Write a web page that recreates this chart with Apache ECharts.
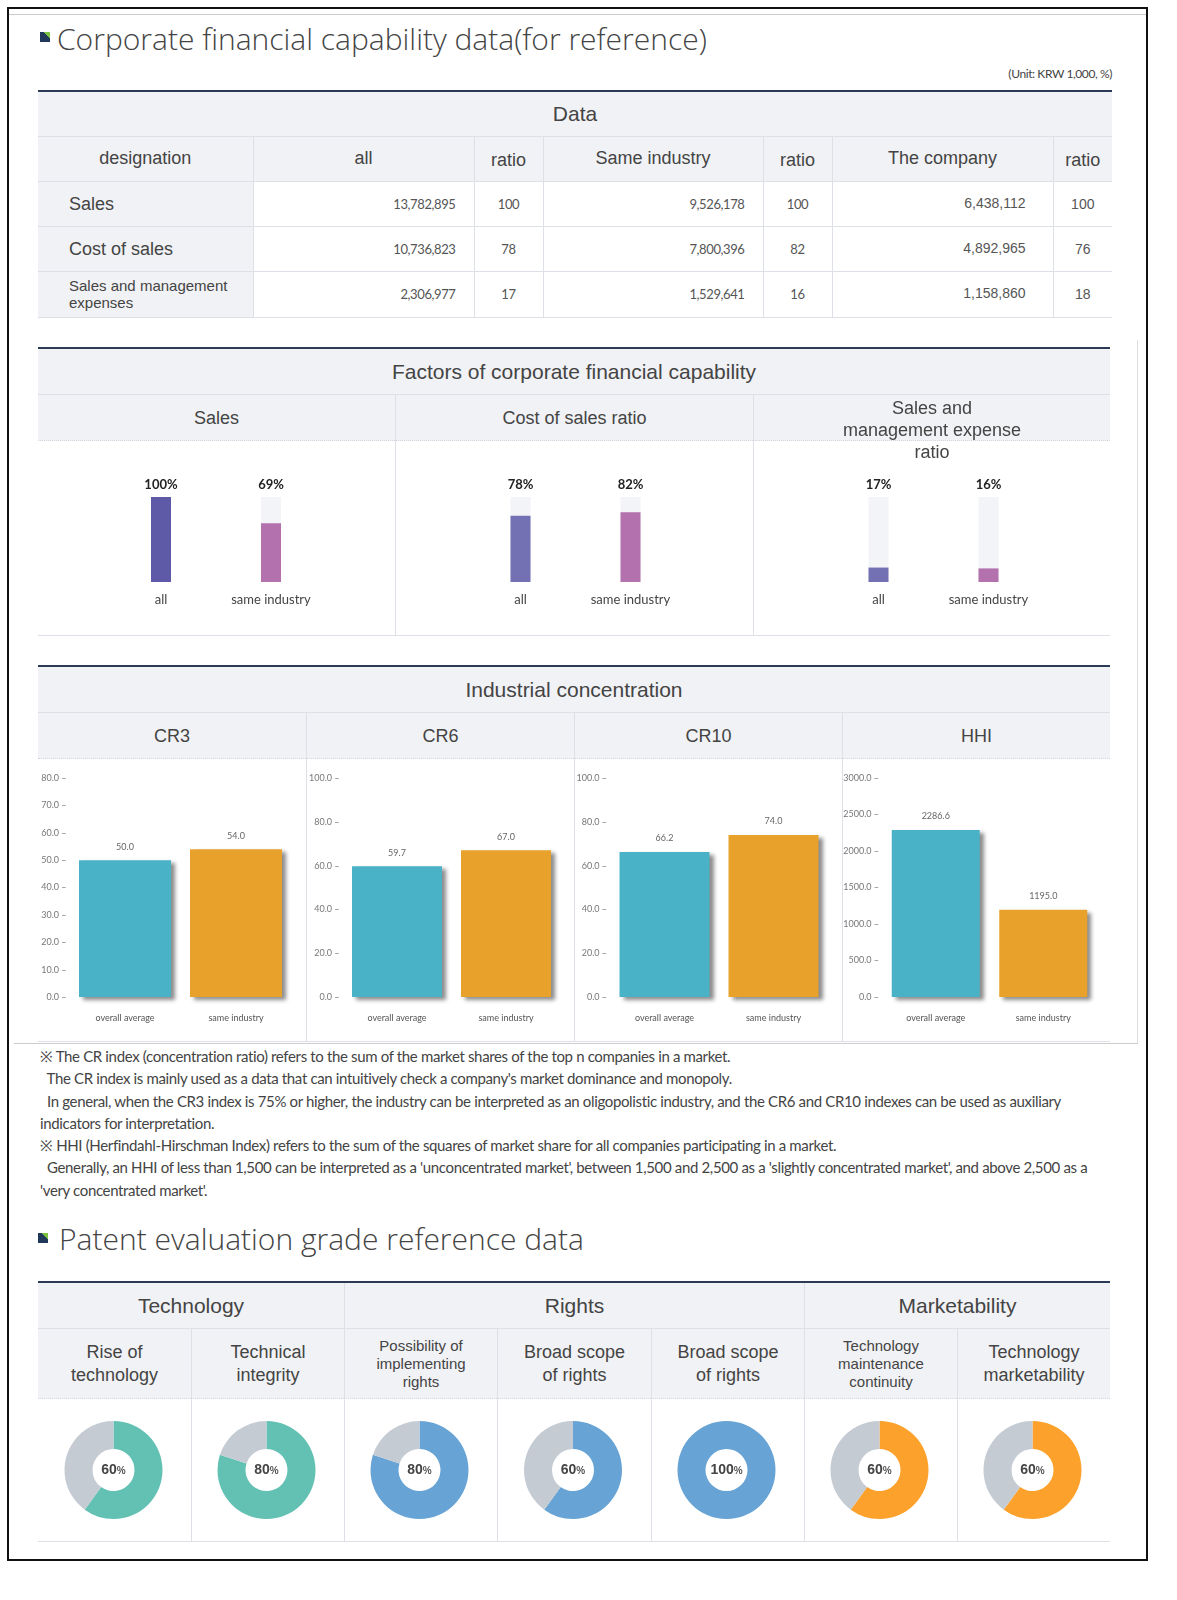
<!DOCTYPE html>
<html><head><meta charset="utf-8">
<script src="https://cdn.jsdelivr.net/npm/echarts@6/dist/echarts.min.js"></script>
<style>
html{margin:0;width:1177px;height:1600px;overflow:hidden;}
body{margin:0;background:#fff;width:1177px;height:1600px;position:relative;font-family:"Liberation Sans",Arial,sans-serif;color:#444;overflow:hidden;}
#page{position:absolute;left:0;top:0;width:1177px;height:1600px;overflow:hidden;}
.abs{position:absolute;}
.frame{left:7px;top:7px;width:1141px;height:1554px;border:2px solid #111;box-sizing:border-box;}
.title{font-family:"Open Sans","Noto Sans",sans-serif;font-weight:300;font-size:30px;color:#444;line-height:40px;white-space:nowrap;}
.bullet{width:10px;height:10px;background:linear-gradient(225deg,#7cc242 0,#7cc242 32%,#22385a 32%);}
table{border-collapse:collapse;table-layout:fixed;}
td{padding:0;border-bottom:1px solid #dde0e6;border-left:1px solid #dde0e6;overflow:visible;}
td:first-child{border-left:none;}
.hd{background:#f1f2f5;text-align:center;color:#444;}
.num{font-family:"Lato",sans-serif;font-size:13px;color:#555;letter-spacing:-0.4px;}
.sec{border-top:2px solid #2b3a55;box-sizing:border-box;}
.row{position:absolute;left:0;background:#f1f2f5;text-align:center;color:#444;}
.note{font-family:"Lato",sans-serif;font-size:15px;color:#444;letter-spacing:-0.35px;white-space:pre;line-height:22.3px;}
.vline{position:absolute;width:1px;background:#dde0e6;}
</style></head>
<body>
<div id="page">
<div class="abs frame"></div>
<div class="abs" style="left:9px;top:14px;width:1137px;height:1px;background:#ccc"></div>

<div class="abs bullet" style="left:40px;top:32px"></div>
<div class="abs title" style="left:57px;top:19px">Corporate financial capability data(for reference)</div>
<div class="abs num" style="left:900px;top:66px;width:212px;text-align:right;font-size:12px;color:#444">(Unit: KRW 1,000, %)</div>

<div class="abs" id="t1" style="left:38px;top:90px;width:1074px"></div>

<div class="abs sec" id="sec2" style="left:38px;top:347px;width:1072px;height:288px"></div>
<div class="abs sec" id="sec3" style="left:38px;top:665px;width:1072px;height:376px"></div>

<div class="abs" style="left:14px;top:1043px;width:1124px;height:1px;background:#ccc"></div>
<div class="abs" style="left:1137px;top:340px;width:1px;height:703px;background:#ddd"></div>
<div class="abs" id="notes" style="left:40px;top:1045px"></div>

<div class="abs bullet" style="left:38px;top:1233px"></div>
<div class="abs title" style="left:59px;top:1219px">Patent evaluation grade reference data</div>
<div class="abs sec" id="sec4" style="left:38px;top:1281px;width:1072px;height:260px"></div>

<div class="abs" id="c1" style="left:38px;top:440px;width:1072px;height:194px"></div>
<div class="abs" id="c2" style="left:38px;top:758px;width:1072px;height:282px"></div>
<div class="abs" id="c3" style="left:38px;top:1398px;width:1072px;height:142px"></div>
</div>

<script>
// ---------- data ----------
const tableHeaders = ['designation','all','ratio','Same industry','ratio','The company','ratio'];
const rowNames = ['Sales','Cost of sales','Sales and management expenses'];
const allAmounts = ['13,782,895','10,736,823','2,306,977'];
const allRatios = [100,78,17];
const industryAmounts = ['9,526,178','7,800,396','1,529,641'];
const industryRatios = [100,82,16];
const companyAmounts = ['6,438,112','4,892,965','1,158,860'];
const companyRatios = [100,76,18];

const factorTitles = ['Sales','Cost of sales ratio','Sales and management expense ratio'];
const factorCats = ['all','same industry'];
const factorValues = [[100,69],[78,82],[17,16]];

const concTitles = ['CR3','CR6','CR10','HHI'];
const concCats = ['overall average','same industry'];
const concValues = [[50.0,54.0],[59.7,67.0],[66.2,74.0],[2286.6,1195.0]];
const concMax = [80,100,100,3000];
const concStep = [10,20,20,500];

const patentGroups = ['Technology','Rights','Marketability'];
const patentGroupSpans = [2,3,2];
const patentItems = ['Rise of technology','Technical integrity','Possibility of implementing rights','Broad scope of rights','Broad scope of rights','Technology maintenance continuity','Technology marketability'];
const patentValues = [60,80,80,60,100,60,60];

const noteLines = [
"※ The CR index (concentration ratio) refers to the sum of the market shares of the top n companies in a market.",
"  The CR index is mainly used as a data that can intuitively check a company's market dominance and monopoly.",
"  In general, when the CR3 index is 75% or higher, the industry can be interpreted as an oligopolistic industry, and the CR6 and CR10 indexes can be used as auxiliary",
"indicators for interpretation.",
"※ HHI (Herfindahl-Hirschman Index) refers to the sum of the squares of market share for all companies participating in a market.",
"  Generally, an HHI of less than 1,500 can be interpreted as a 'unconcentrated market', between 1,500 and 2,500 as a 'slightly concentrated market', and above 2,500 as a",
"'very concentrated market'."
];

// ---------- table 1 ----------
(function(){
  const widths=[215,221,69,220,69,221,59];
  let h='<table class="sec" style="width:1074px"><colgroup>'+widths.map(w=>'<col style="width:'+w+'px">').join('')+'</colgroup>';
  h+='<tr style="height:45px"><td colspan="7" class="hd" style="font-size:21px">Data</td></tr>';
  h+='<tr style="height:45px">'+tableHeaders.map((t,i)=>'<td class="hd" style="font-size:18px;'+(i%2===0&&i>0?'padding-top:4px':'')+'">'+t+'</td>').join('')+'</tr>';
  rowNames.forEach((n,r)=>{
    const long=n.length>20;
    h+='<tr style="height:'+(r===2?46:45)+'px">';
    h+='<td class="hd" style="text-align:left;padding-left:31px;font-size:'+(long?15:18)+'px;line-height:'+(long?17:20)+'px;white-space:'+(long?'normal':'nowrap')+'">'+n+'</td>';
    h+='<td class="num" style="text-align:right;padding-right:18px">'+allAmounts[r]+'</td>';
    h+='<td class="num" style="text-align:center">'+allRatios[r]+'</td>';
    h+='<td class="num" style="text-align:right;padding-right:18px">'+industryAmounts[r]+'</td>';
    h+='<td class="num" style="text-align:center">'+industryRatios[r]+'</td>';
    h+='<td style="text-align:right;padding-right:27px;font-size:14px;color:#555;vertical-align:top;padding-top:13px">'+companyAmounts[r]+'</td>';
    h+='<td style="text-align:center;font-size:14px;color:#555">'+companyRatios[r]+'</td>';
    h+='</tr>';
  });
  h+='</table>';
  document.getElementById('t1').innerHTML=h;
})();

// ---------- section layouts ----------
function buildSection(id, title, subs, subH, bodyH, subStyleFn){
  const el=document.getElementById(id);
  const W=1072, n=subs.length;
  let h='<div class="row" style="top:0;width:'+W+'px;height:45px;line-height:45px;font-size:21px;border-bottom:1px solid #dde0e6">'+title+'</div>';
  let x=0;
  const ws=[];
  for(let i=0;i<n;i++){ws.push(Math.round(W*(i+1)/n)-Math.round(W*i/n));}
  subs.forEach((s,i)=>{
    h+='<div class="row" style="top:46px;left:'+x+'px;width:'+ws[i]+'px;height:'+subH+'px;border-bottom:1px dotted #d4d7dd;'+(i>0?'border-left:1px solid #dde0e6;':'')+'box-sizing:border-box;">'+subStyleFn(s,i)+'</div>';
    if(i>0) h+='<div class="vline" style="left:'+x+'px;top:'+(46+subH)+'px;height:'+bodyH+'px"></div>';
    x+=ws[i];
  });
  h+='<div style="position:absolute;left:0;top:'+(46+subH+bodyH)+'px;width:'+W+'px;height:1px;background:#dde0e6"></div>';
  el.innerHTML=h;
  return ws;
}
buildSection('sec2','Factors of corporate financial capability',factorTitles,46,194,(s,i)=>{
  if(s.length>25) return '<div style="width:190px;margin:0 auto;padding-top:2px;font-size:18px;line-height:22px;white-space:normal;position:relative;z-index:2">'+s+'</div>';
  return '<div style="font-size:18px;line-height:46px">'+s+'</div>';
});
buildSection('sec3','Industrial concentration',concTitles,46,282,(s)=>'<div style="font-size:18px;line-height:46px">'+s+'</div>');

// patent table
(function(){
  const el=document.getElementById('sec4');
  const ws=[153,153,153,154,153,153,153];
  let h='', x=0, k=0;
  patentGroups.forEach((g,gi)=>{
    let w=0; for(let j=0;j<patentGroupSpans[gi];j++) w+=ws[k+j];
    h+='<div class="row" style="top:0;left:'+x+'px;width:'+w+'px;height:46px;line-height:46px;font-size:21px;border-bottom:1px solid #dde0e6;'+(gi>0?'border-left:1px solid #dde0e6;':'')+'box-sizing:border-box">'+g+'</div>';
    x+=w; k+=patentGroupSpans[gi];
  });
  x=0;
  patentItems.forEach((t,i)=>{
    const long=t.length>24;
    h+='<div class="row" style="top:46px;left:'+x+'px;width:'+ws[i]+'px;height:70px;border-bottom:1px dotted #d4d7dd;'+(i>0?'border-left:1px solid #dde0e6;':'')+'box-sizing:border-box;display:flex;align-items:center;justify-content:center">'+
      '<div style="width:'+(long?120:112)+'px;font-size:'+(long?15:18)+'px;line-height:'+(long?18:23)+'px">'+t+'</div></div>';
    if(i>0) h+='<div class="vline" style="left:'+x+'px;top:116px;height:142px"></div>';
    x+=ws[i];
  });
  h+='<div style="position:absolute;left:0;top:258px;width:1072px;height:1px;background:#dde0e6"></div>';
  el.innerHTML=h;
})();

// notes
document.getElementById('notes').innerHTML=noteLines.map(l=>'<div class="note">'+l.replace(/&/g,'&amp;').replace(/</g,'&lt;')+'</div>').join('');
</script>

<script>
const narrow='Lato, sans-serif';
// ---------- factor bars ----------
(function(){
  const chart=echarts.init(document.getElementById('c1'),null,{renderer:'canvas'});
  const gridLefts=[68,427.5,785.5];
  const colors=[['#5e5aa8','#b371ad'],['#7370b3','#b371ad'],['#7370b3','#b371ad']];
  const grid=[],xAxis=[],yAxis=[],series=[];
  factorValues.forEach((vals,i)=>{
    grid.push({left:gridLefts[i],top:57,width:220,height:85});
    xAxis.push({type:'category',gridIndex:i,data:factorCats,axisLine:{show:false},axisTick:{show:false},
      axisLabel:{margin:11,fontSize:13,color:'#444',fontFamily:narrow}});
    xAxis.push({type:'category',gridIndex:i,position:'top',data:factorCats,axisLine:{show:false},axisTick:{show:false},
      axisLabel:{margin:6,fontSize:13,fontWeight:'bold',color:'#222',fontFamily:narrow,formatter:(v,idx)=>vals[idx]+'%'}});
    yAxis.push({type:'value',gridIndex:i,min:0,max:100,show:false});
    series.push({type:'bar',xAxisIndex:i*2,yAxisIndex:i,barWidth:20,showBackground:true,
      backgroundStyle:{color:'#f3f4f7'},silent:true,
      data:vals.map((v,j)=>({value:v,itemStyle:{color:colors[i][j]}}))});
  });
  chart.setOption({animation:false,grid,xAxis,yAxis,series});
})();

// ---------- concentration bars ----------
(function(){
  const chart=echarts.init(document.getElementById('c2'));
  const gridLefts=[31.5,304.5,572,844];
  const gridWidths=[222,218,218,215];
  const barWidths=[92,90,90,88];
  const colors=['#4ab2c6','#e8a22b'];
  const grid=[],xAxis=[],yAxis=[],series=[];
  concValues.forEach((vals,i)=>{
    grid.push({left:gridLefts[i],top:20,width:gridWidths[i],height:219});
    xAxis.push({type:'category',gridIndex:i,data:concCats,axisLine:{show:false},axisTick:{show:false},
      axisLabel:{margin:17,fontSize:9,color:'#555',fontFamily:narrow}});
    yAxis.push({type:'value',gridIndex:i,min:0,max:concMax[i],interval:concStep[i],splitLine:{show:false},
      axisLine:{show:false},axisTick:{show:false},
      axisLabel:{margin:3,fontSize:9,color:'#777',fontFamily:narrow,formatter:v=>v.toFixed(1)+' \u2013'}});
    series.push({type:'bar',xAxisIndex:i,yAxisIndex:i,barWidth:barWidths[i],silent:true,
      label:{show:true,position:'top',distance:9,fontSize:9,color:'#666',fontFamily:narrow,formatter:p=>p.value.toFixed(1)},
      data:vals.map((v,j)=>({value:v,itemStyle:{color:colors[j],shadowColor:'rgba(0,0,0,0.45)',shadowBlur:4,shadowOffsetX:4,shadowOffsetY:3}}))});
  });
  chart.setOption({animation:false,grid,xAxis,yAxis,series});
})();

// ---------- patent donuts ----------
(function(){
  const chart=echarts.init(document.getElementById('c3'));
  const ws=[153,153,153,154,153,153,153];
  const groupColors=['#63c1b4','#63c1b4','#67a3d4','#67a3d4','#67a3d4','#fca12b','#fca12b'];
  let x=0;
  const series=patentValues.map((v,i)=>{
    const cx=x+ws[i]/2-1; x+=ws[i];
    return {type:'pie',center:[cx,72],radius:[21,49],startAngle:90,clockwise:true,silent:true,
      avoidLabelOverlap:false,labelLine:{show:false},
      label:{show:true,position:'center',formatter:p=>'{n|'+p.value+'}{p|%}',
        rich:{n:{fontSize:14,fontWeight:'bold',color:'#444',fontFamily:'"Liberation Sans",Arial'},
              p:{fontSize:10,fontWeight:'bold',color:'#555',fontFamily:'"Liberation Sans",Arial',padding:[2,0,0,0]}}},
      data:[{value:v,itemStyle:{color:groupColors[i]}},
            {value:100-v,itemStyle:{color:'#c4cbd3'},label:{show:false}}]};
  });
  chart.setOption({animation:false,series});
})();
</script>
</body></html>
